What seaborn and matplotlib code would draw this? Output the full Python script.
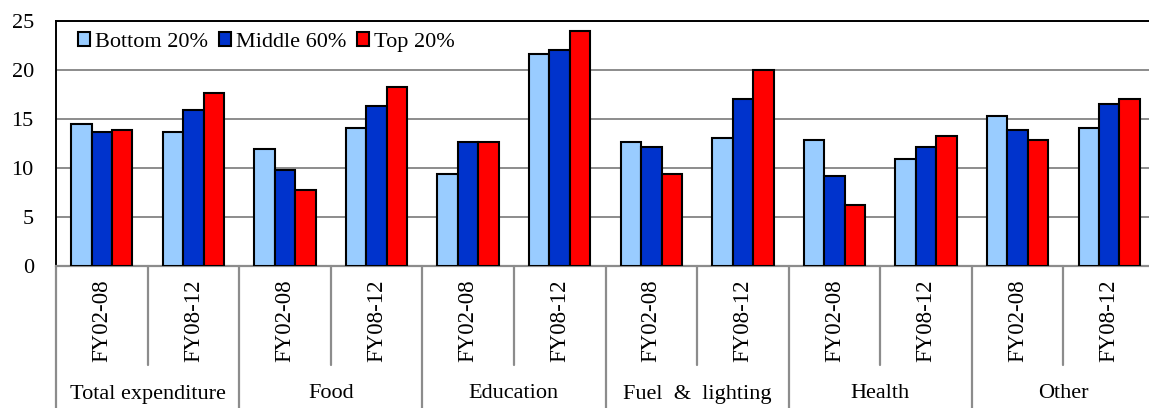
import matplotlib
matplotlib.use("Agg")
import matplotlib.pyplot as plt
import seaborn as sns
import pandas as pd

# Categories and periods
groups = ["Total expenditure", "Food", "Education", "Fuel & lighting", "Health", "Other"]
periods = ["FY02-08", "FY08-12"]
series = ["Bottom 20%", "Middle 60%", "Top 20%"]

# Values per (group, period) in the order of `groups` x `periods`
bottom_20 = [14.5, 13.7, 11.9, 14.1, 9.4, 21.6, 12.7, 13.1, 12.9, 10.9, 15.3, 14.1]
middle_60 = [13.7, 15.9, 9.8, 16.3, 12.7, 22.0, 12.1, 17.0, 9.2, 12.1, 13.9, 16.5]
top_20 = [13.9, 17.7, 7.8, 18.3, 12.7, 24.0, 9.4, 20.0, 6.2, 13.3, 12.9, 17.0]

colors = ["#99CCFF", "#0033CC", "#FF0000"]

slots = [f"{g}|{p}" for g in groups for p in periods]
rows = []
for name, vals in zip(series, [bottom_20, middle_60, top_20]):
    for slot, v in zip(slots, vals):
        rows.append({"slot": slot, "series": name, "value": v})
df = pd.DataFrame(rows)

sns.set_style("white")
plt.rcParams["font.family"] = ["Liberation Serif", "DejaVu Serif"]
plt.rcParams["font.size"] = 16
for key in ["text.color", "axes.labelcolor", "xtick.color", "ytick.color"]:
    plt.rcParams[key] = "black"

fig = plt.figure(figsize=(11.49, 4.08), dpi=100)
# the plot area runs slightly past the right edge of the canvas
ax = fig.add_axes([56 / 1149, 1 - 266 / 408, (1155 - 56) / 1149, (266 - 21) / 408])

sns.barplot(data=df, x="slot", y="value", hue="series", order=slots,
            hue_order=series, palette=colors, width=0.67,
            edgecolor="black", linewidth=1.5, saturation=1, ax=ax, zorder=3)

ax.set_ylim(0, 25)
ax.set_yticks([0, 5, 10, 15, 20, 25])
ax.set_xlim(-0.5, len(slots) - 0.5)
ax.yaxis.grid(True, color="#8c8c8c", linewidth=1.4, zorder=0)
ax.set_axisbelow(True)
ax.tick_params(axis="y", length=0, pad=16, labelsize=16, labelcolor="black")
ax.set_xticks([])
ax.set_xlabel("")
ax.set_ylabel("")

for side in ["top", "left", "right"]:
    ax.spines[side].set_color("black")
    ax.spines[side].set_linewidth(1.4)
ax.spines["bottom"].set_color("#8c8c8c")
ax.spines["bottom"].set_linewidth(1.6)

# Two-level category table below the axis
trans = ax.get_xaxis_transform()
minor_bottom = -99 / 245
full_bottom = -142 / 245
for i in range(len(slots) + 1):
    x = i - 0.5
    y_end = full_bottom if i % 2 == 0 else minor_bottom
    ax.plot([x, x], [0, y_end], transform=trans, color="#8c8c8c",
            linewidth=1.6, clip_on=False)

for i, slot in enumerate(slots):
    ax.text(i, -55 / 245, slot.split("|")[1], transform=trans, rotation=90,
            ha="center", va="center", fontsize=16.5, color="black")
for j, g in enumerate(groups):
    label = g.replace(" & ", "  &  ")
    ax.text(2 * j + 0.5, -128 / 245, label, transform=trans,
            ha="center", va="center", fontsize=16, color="black")

leg = ax.legend(loc="upper left", ncol=3, frameon=False, fontsize=16,
                handlelength=0.55, handleheight=0.55, handletextpad=0.2,
                columnspacing=0.5, borderaxespad=0.3, borderpad=0.2,
                bbox_to_anchor=(0.01, 1.0))
for t in leg.get_texts():
    t.set_color("black")

fig.savefig("out.png", dpi=100)
